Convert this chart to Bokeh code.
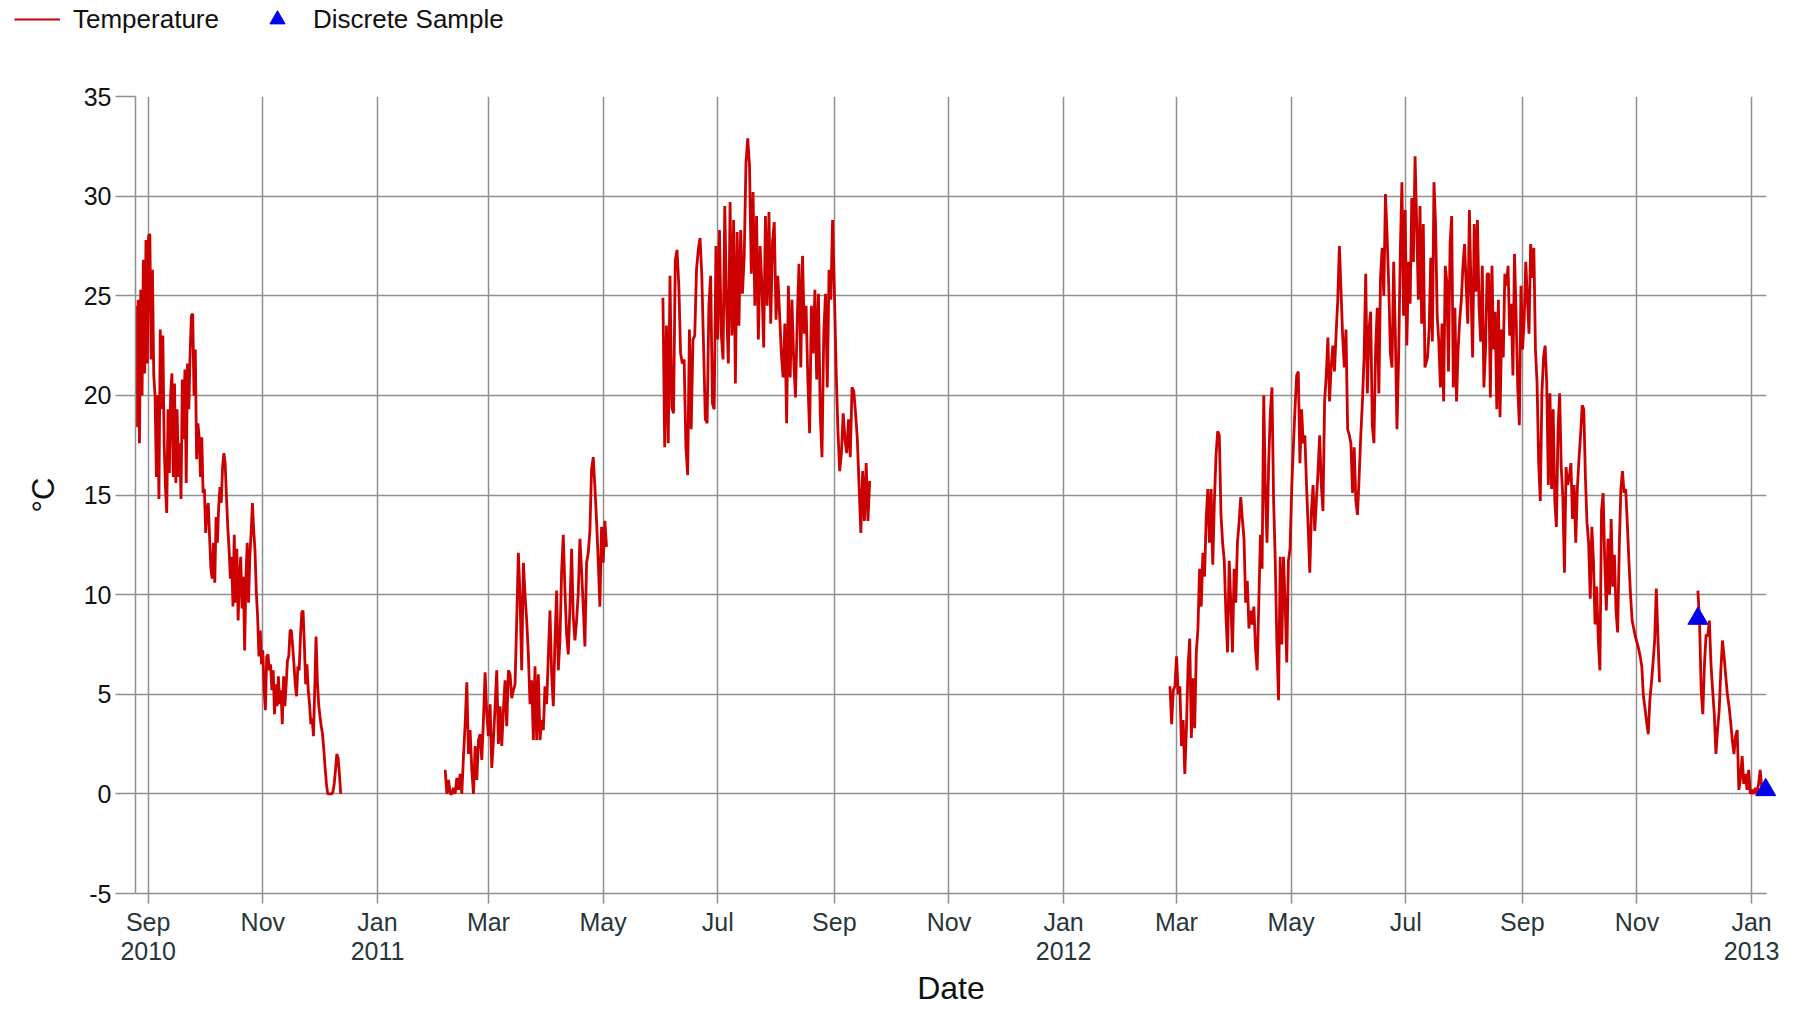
from datetime import datetime
import numpy as np
from bokeh.plotting import figure
from bokeh.models import Range1d, FixedTicker, Legend, LegendItem
from bokeh.embed import file_html
from bokeh.resources import INLINE

EPOCH = datetime(1970, 1, 1)


def ms(d):
    return (d - EPOCH).total_seconds() * 1000.0


# ---------------- data ----------------
tick_dates = [datetime(2010, 9, 1), datetime(2010, 11, 1), datetime(2011, 1, 1),
              datetime(2011, 3, 1), datetime(2011, 5, 1), datetime(2011, 7, 1),
              datetime(2011, 9, 1), datetime(2011, 11, 1), datetime(2012, 1, 1),
              datetime(2012, 3, 1), datetime(2012, 5, 1), datetime(2012, 7, 1),
              datetime(2012, 9, 1), datetime(2012, 11, 1), datetime(2013, 1, 1)]
tick_labels = ["Sep\n2010", "Nov", "Jan\n2011", "Mar", "May", "Jul", "Sep", "Nov",
               "Jan\n2012", "Mar", "May", "Jul", "Sep", "Nov", "Jan\n2013"]
y_ticks = [-5, 0, 5, 10, 15, 20, 25, 30, 35]
y_tick_labels = ["-5", "0", "5", "10", "15", "20", "25", "30", "35"]

# Temperature segments (start, end)
seg1_span = (datetime(2010, 8, 25, 7), datetime(2010, 12, 12, 10))
seg1_temp = [24.5, 18.4, 24.8, 17.6, 25.3, 20, 26.8, 21.1, 27.8, 21.6, 28, 28.1, 21.8, 26.3,
             21, 20, 15.9, 20, 14.8, 23.3, 19.3, 23, 17.6, 15.4, 14.1, 19.3, 16.1, 20, 21.1,
             15.9, 20.6, 15.6, 19.3, 15.9, 17.6, 14.8, 20.8, 17.8, 21.3, 15.6, 21.6, 19.3,
             22.1, 24, 24.1, 20, 22.3, 16.8, 18.6, 17.9, 15.9, 17.9, 15.1, 15.3, 13.1, 14.3,
             14.6, 12.9, 11.3, 10.8, 12.6, 10.6, 13.9, 12.6, 14.4, 15.4, 14.6, 16.4, 17.1,
             16.6, 14.9, 13.4, 12.3, 10.8, 11.9, 9.4, 13, 9.6, 12.3, 8.7, 10.9, 11.9, 9.3,
             10.9, 7.2,
             10.9, 12.6, 9.6, 11.9, 13.1, 14.6, 13.2, 12.2, 10.1, 8.9, 6.9, 8.2, 6.5, 7.2,
             5.2, 4.2, 6.9, 7, 6.2, 6.5, 5.2, 6.2, 4, 5.5, 4.4, 5.9, 4.5, 5.2, 3.5, 5.9, 4.4,
             5.5, 6.7, 6.9, 8.2, 8.2, 7.4, 6.5, 5.5, 4.9, 6.4, 6.2, 7.9, 9.1, 9.2, 7.5, 5.5,
             6.5, 5.2, 4.5, 3.5, 3.8, 2.9, 5.2, 7.9, 5.7, 4.5, 3.9, 3.4, 3, 2.2, 1.3, 0.5, 0,
             0, 0, 0, 0.1, 0.5, 1.2, 2, 1.8, 1, 0]

seg2_span = (datetime(2011, 2, 6, 0), datetime(2011, 5, 2, 20))
seg2_temp = [1.2, 0, 0.7, 0, 0, 0.3, 0, 0.8, 0.2, 1.0, 0, 1.9, 3.5, 5.6, 2, 3.2, 1.2, 0, 2.4,
             0.7, 2.7, 3.0, 1.7, 3.7, 6.1, 4, 2.9, 4.5, 1.3, 2.7, 4.4, 6.2, 2.5, 4.4, 2.4, 4.2,
             5.7, 3.4, 6.2, 6, 4.8, 5.2, 5.5, 8.7, 12.1, 9.9, 6.2, 11.6, 10, 8.7, 7, 4.5, 5.7,
             2.7, 6.4, 2.7, 6, 2.7, 3.7, 3.2, 5.4, 4.5, 6.9, 9.2, 6, 4.4, 7.7, 10.2, 6.2, 7.7,
             11.2, 13, 10.2, 8, 7, 9.4, 12.3, 8.9, 7.7, 8.7, 10.1, 12.8, 11.2, 9.4, 7.4, 11.6,
             12.1, 13.2, 16.3, 16.9, 15.4, 13.7, 11.7, 9.4, 13.4, 11.6, 13.7, 12.4]

seg3_span = (datetime(2011, 6, 1, 20), datetime(2011, 9, 19, 20))
seg3_temp = [24.9, 17.4, 23.5, 17.6, 26, 19.4, 19.1, 26.8, 27.3, 25.5, 22.1, 21.6, 21.8, 17.4,
             16, 23.3, 18.3, 22.8, 23, 26.3, 27.3, 27.9, 26, 22.4, 18.8, 18.6, 24.5, 26, 19.6,
             19.3, 27.5, 22.8, 28.3, 23.1, 21.8, 29.5, 24.5, 21.6, 29.7, 23, 28.8, 20.6, 28.2,
             23.5, 28.3, 25.1, 27, 31.7, 32.9, 31.5, 26.1, 30.2, 24.5, 29, 22.8, 27.5, 25.5,
             22.4, 29, 24.5, 29.2, 23.6, 27.7, 28.7, 23.8, 26, 24.1, 22.1, 20.9, 23.6, 18.6,
             25.5, 20.9, 24.8, 21.8, 19.9, 23.8, 26.6, 21.4, 27, 23.1, 24.5, 20.8, 18.1, 24.5,
             22.1, 25.3, 20.8, 25.1, 19.1, 16.9, 23.1, 25.1, 20.4, 26.3, 24.8, 28.8, 25.3, 21.3,
             18.3, 16.2, 17.1, 19.1, 17.8, 17.1, 18.8, 16.9, 20.4, 20.2, 19.1, 17.8, 15.4, 13.1,
             16.2, 13.7, 16.6, 13.7, 15.7]

seg4a_span = (datetime(2012, 2, 26, 14), datetime(2012, 7, 11, 5))
seg4a_temp = [5.4, 3.5, 5.2, 5.4, 6.9, 5, 5.4, 2.4, 3.7, 1, 3.3, 6.4, 7.8, 2.8, 5.8, 3.3, 7.1,
              8.3, 11.3, 9.4, 12.1, 10.9, 13.8, 15.3, 12.6, 15.3, 11.5, 14.7, 17, 18.2, 18, 14,
              12.6, 11.7, 9, 7.1, 11.7, 9.6, 7.1, 11.3, 9.6, 12.6, 13.6, 14.9, 13.8, 12.8, 9.6,
              10.7, 8.3, 9.2, 8.5, 9.4, 7.3, 6.2, 9.6, 13, 11.3, 20, 15.1, 12.6, 16.6, 19.1,
              20.4, 14.7, 11.7, 7.5, 4.7, 11.9, 7.5, 11.9, 9.6, 6.6, 11.7, 12.3, 15.3, 17.4,
              19.3, 21, 21.2, 16.6, 19.3, 17.6, 18, 15.5, 13.4, 11.1, 14.2, 15.5, 13.2, 14.7,
              16.2, 18, 15.5, 14.2, 19.7, 21, 22.9, 19.7, 21.4, 22.5, 21.2, 23.1, 24.8, 27.5,
              25.2, 22.9, 21.4, 23.3, 18.3, 18, 17.6, 15.1, 17.4, 14.7, 14, 15.9, 18, 19.7,
              21.9, 26.1, 20.1, 23.3, 24.2, 18.5, 17.6, 22.3, 24.4, 20.1, 25.9, 27.4, 25, 30.1,
              28, 25.5, 22.1, 21.4, 26.7, 23.1, 18.3, 21.9, 27.1, 30.7, 24, 29.3, 22.5, 26.7,
              24.6, 29.9, 26.7, 32, 28.6, 24.8, 29.5, 23.6, 28.6, 21.4]

seg4b_span = (datetime(2012, 7, 12, 14), datetime(2012, 11, 13, 0))
seg4b_temp = [21.9, 23.3, 26.9, 22.7, 30.7, 28.6, 24, 22.7, 20.4, 23.6, 19.7, 26.5, 25.7, 21.2,
              27.6, 29, 20.4, 24.4, 19.7, 22.3, 23.8, 24.8, 26.5, 27.6, 25.5, 23.6, 29.3, 25.3,
              21.9, 28.6, 25.2, 28.8, 24.4, 22.7, 26.5, 20.4, 22.3, 26.1, 26.1, 19.9, 26.5, 22.3,
              24.2, 19.3, 24.8, 18.9, 23.3, 21.9, 26.1, 25.5, 26.5, 23, 24.6, 21, 27.1, 24,
              20.4, 18.5, 25.5, 22.3, 23.8, 26.7, 24.8, 23.1, 27.6, 25.9, 27.4, 22.3, 20.6, 16.6,
              14.7, 20.1, 21.9, 22.5, 20.6, 15.5, 20.1, 15.3, 19.3, 14.7, 13.4, 18.3, 20.1, 16.4,
              14.9, 11.1, 16.4, 15.5, 15.9, 16.6, 13.8, 15.5, 12.6, 15.3, 16.8, 18, 19.5, 19.3,
              15.9, 13.6, 12.6, 9.8, 13.4, 11.7, 8.5, 10.4, 7.7, 6.2, 14.2, 15.1, 11.7, 9.2, 12.8,
              10, 13.8, 10.4, 12, 9.2, 8.1, 12.3, 15.3, 16.2, 15.1, 15.3, 13.6, 11.7, 10, 8.7,
              8.3, 7.9, 7.6, 7.3, 6.9, 6.4, 4.9, 4.3, 3.6, 3, 4.7, 5.6, 6.6, 7.7, 10.3, 7.9, 5.6]

seg5_span = (datetime(2012, 12, 3, 10), datetime(2013, 1, 6, 10))
seg5_temp = [10.2, 8.7, 5.2, 4, 6.5, 8, 7.9, 8.7, 6.5, 5.2, 4, 2, 3.2, 4.2, 6.2, 7.7, 6.9, 5.9,
             5, 4.4, 3.6, 2.7, 2, 2.9, 3.2, 0.2, 0.8, 1.9, 0.5, 1, 0.2, 1.2, 0, 0.2, 0, 0.3, 0,
             0.5, 1.2, 0.3]

sample_dates = [datetime(2012, 12, 3, 10), datetime(2013, 1, 8, 12)]
sample_temp = [8.8, 0.2]

# ---------------- build line with gaps ----------------
segments = [(seg1_span, seg1_temp), (seg2_span, seg2_temp), (seg3_span, seg3_temp),
            (seg4a_span, seg4a_temp), (seg4b_span, seg4b_temp), (seg5_span, seg5_temp)]
xs, ys = [], []
for i, ((s, e), vals) in enumerate(segments):
    t = np.linspace(ms(s), ms(e), len(vals))
    xs.extend(t.tolist())
    ys.extend(vals)
    # break between segments except 4a -> 4b (continuous record)
    if i != 3 and i != len(segments) - 1:
        xs.append(np.nan)
        ys.append(np.nan)

GRID = "#8f8f8f"
FONT = "Liberation Sans"
RED = "#cc0000"
BLUE = "#0000ee"
W, H = 1788, 1009
LEG_H = 38
TOP, LEFT, RIGHT, BOTTOM = 96 - LEG_H, 135, 22, 116

# ---------------- legend strip (own root, frame = whole strip) ----------------
lg = figure(width=W, height=LEG_H, output_backend="svg", toolbar_location=None,
            x_range=Range1d(0, 1), y_range=Range1d(0, 1),
            x_axis_location=None, y_axis_location=None,
            min_border_left=0, min_border_right=0, min_border_top=0, min_border_bottom=0)
lg.outline_line_color = None
lg.xgrid.visible = False
lg.ygrid.visible = False
lg.background_fill_color = "white"
lg.border_fill_color = "white"
# legend key renderers (kept outside the visible range of the strip)
lg_line = lg.line([-2, -1], [-2, -2], line_color=RED, line_width=2)
lg_tri = lg.scatter([-2], [-2], marker="triangle", fill_color=BLUE, line_color=BLUE)
legend = Legend(items=[LegendItem(label="Temperature", renderers=[lg_line]),
                       LegendItem(label="Discrete Sample", renderers=[lg_tri])],
                orientation="horizontal", location=(14, 0),
                label_text_font=FONT, label_text_font_size="26px", label_text_color="#111111",
                glyph_width=46, glyph_height=LEG_H, label_standoff=13, spacing=35,
                padding=0, margin=0, border_line_color=None, background_fill_alpha=0)
lg.add_layout(legend)

# ---------------- main chart ----------------
p = figure(width=W, height=H - LEG_H, x_axis_type="datetime", output_backend="svg",
           toolbar_location=None,
           x_range=Range1d(ms(datetime(2010, 8, 25, 6)), ms(datetime(2013, 1, 8, 22))),
           y_range=Range1d(-5, 35),
           min_border_left=LEFT, min_border_right=RIGHT, min_border_top=TOP,
           min_border_bottom=BOTTOM)
p.outline_line_color = None
p.background_fill_color = "white"
p.border_fill_color = "white"

p.line(xs, ys, line_color=RED, line_width=2.8)
p.scatter([ms(d) for d in sample_dates], sample_temp, marker="triangle", size=20,
          fill_color=BLUE, line_color=BLUE, level="overlay")

p.xaxis.ticker = FixedTicker(ticks=[ms(d) for d in tick_dates])
p.xaxis.major_label_overrides = {ms(d): lab for d, lab in zip(tick_dates, tick_labels)}
p.yaxis.ticker = FixedTicker(ticks=y_ticks)
p.yaxis.major_label_overrides = {v: lab for v, lab in zip(y_ticks, y_tick_labels)}

for ax in (p.xaxis[0], p.yaxis[0]):
    ax.axis_line_color = GRID
    ax.axis_line_width = 1.5
    ax.major_tick_line_color = GRID
    ax.major_tick_line_width = 1.5
    ax.minor_tick_line_color = None
    ax.major_tick_in = 0
    ax.major_label_text_font = FONT
    ax.major_label_text_font_size = "25px"
    ax.major_label_text_color = "#111111"
    ax.axis_label_text_font = FONT
    ax.axis_label_text_font_style = "normal"
    ax.axis_label_text_color = "#111111"

p.xaxis.major_tick_out = 10
p.xaxis.major_label_standoff = 4
p.xaxis.major_label_text_color = "#26363a"
p.xaxis.major_label_text_line_height = 1.05
p.xaxis.axis_label = "Date"
p.xaxis.axis_label_text_font_size = "32px"
p.xaxis.axis_label_standoff = 2

p.yaxis.major_tick_out = 20
p.yaxis.major_label_standoff = 4
p.yaxis.axis_label = "°C"
p.yaxis.axis_label_text_font_size = "31px"
p.yaxis.axis_label_standoff = 20

for g in (p.xgrid[0], p.ygrid[0]):
    g.grid_line_color = GRID
    g.grid_line_width = 1.5

open("out.html", "w").write(file_html([lg, p], INLINE))
